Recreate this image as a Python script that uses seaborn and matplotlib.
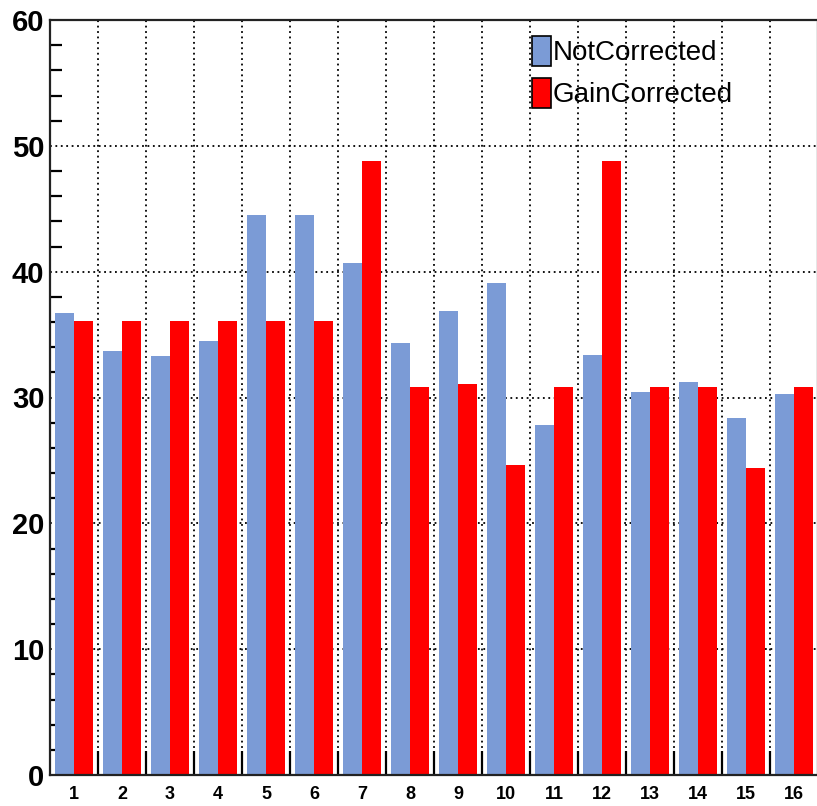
import numpy as np
import pandas as pd
import matplotlib
matplotlib.use("Agg")
import matplotlib.pyplot as plt
from matplotlib.ticker import FixedLocator, MultipleLocator
import seaborn as sns

# Channel numbers and the two series of per-channel values
channels = [str(i) for i in range(1, 17)]
not_corrected = [36.7, 33.7, 33.3, 34.5, 44.5, 44.5, 40.7, 34.3,
                 36.9, 39.1, 27.8, 33.4, 30.4, 31.2, 28.4, 30.3]
gain_corrected = [36.1, 36.1, 36.1, 36.1, 36.1, 36.1, 48.8, 30.8,
                  31.1, 24.6, 30.8, 48.8, 30.8, 30.8, 24.4, 30.8]
series_names = ["NotCorrected", "GainCorrected"]
y_ticks = [0, 10, 20, 30, 40, 50, 60]

sns.set_style("white")
plt.rcParams["font.family"] = ["Liberation Sans", "DejaVu Sans"]
plt.rcParams["text.color"] = "black"
plt.rcParams["xtick.color"] = "black"
plt.rcParams["ytick.color"] = "black"

df = pd.DataFrame({
    "channel": channels * 2,
    "value": not_corrected + gain_corrected,
    "series": [series_names[0]] * 16 + [series_names[1]] * 16,
})

fig = plt.figure(figsize=(8.17, 8.06), dpi=100)
ax = fig.add_axes([50 / 817, 31 / 806, 768 / 817, 755 / 806])

sns.barplot(data=df, x="channel", y="value", hue="series",
            order=channels, hue_order=series_names,
            palette=["#7b9bd6", "#ff0000"], saturation=1, width=0.8,
            linewidth=0, ax=ax)

ax.set_xlim(-0.5, 15.5)
ax.set_ylim(0, 60)
ax.set_xlabel("")
ax.set_ylabel("")

# grid: dotted lines at bin edges and at major y ticks
ax.set_axisbelow(True)
ax.xaxis.set_minor_locator(FixedLocator(np.arange(0.5, 15.0, 1.0)))
ax.yaxis.set_major_locator(FixedLocator(y_ticks))
ax.yaxis.set_minor_locator(MultipleLocator(2))
ax.grid(which="minor", axis="x", color="black", linestyle=(0, (1, 2)), linewidth=1.3)
ax.grid(which="major", axis="y", color="black", linestyle=(0, (1, 2)), linewidth=1.3)

ax.tick_params(axis="x", which="major", length=0, pad=8, labelsize=13)
ax.tick_params(axis="x", which="minor", direction="in", length=17, width=1.6,
               bottom=True, top=False)
ax.tick_params(axis="y", which="major", direction="in", length=17, width=1.6,
               pad=4, labelsize=21)
ax.tick_params(axis="y", which="minor", direction="in", length=8.5, width=1.6,
               left=True, right=False)
for lab in ax.get_xticklabels() + ax.get_yticklabels():
    lab.set_fontweight("bold")

for side in ["left", "bottom", "top", "right"]:
    ax.spines[side].set_visible(True)
    ax.spines[side].set_linewidth(1.6)
    ax.spines[side].set_color("#222222")

handles, labels = ax.get_legend_handles_labels()
for h in handles:
    h.set_edgecolor("black")
    h.set_linewidth(1.2)
leg = ax.legend(handles, labels, loc="upper left",
                bbox_to_anchor=(0.6276, 0.979), frameon=False,
                fontsize=20, handlelength=0.68, handleheight=1.3,
                handletextpad=0.08, labelspacing=0.42, borderpad=0,
                borderaxespad=0)
for t in leg.get_texts():
    t.set_color("black")

fig.savefig("out.png", dpi=100)
